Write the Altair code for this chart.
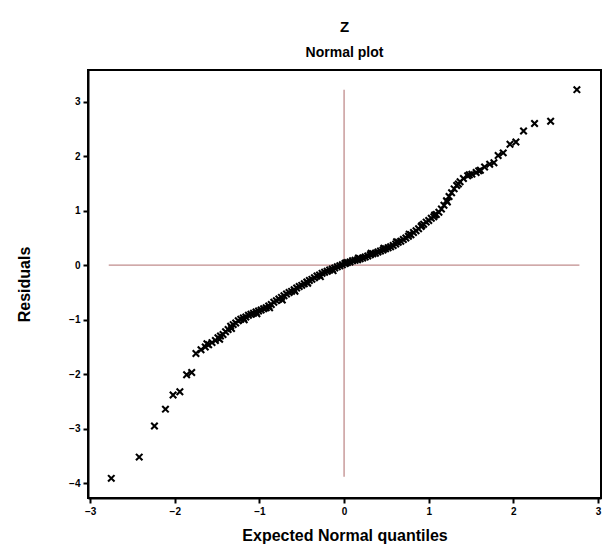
import altair as alt
import pandas as pd

# Expected normal quantiles (x) and residuals (y)
quantiles = [
    -2.75, -2.42, -2.24, -2.11, -2.02, -1.94, -1.86, -1.80, -1.75, -1.69,
    -1.64, -1.60, -1.56, -1.52, -1.49, -1.46, -1.43, -1.40, -1.37, -1.34,
    -1.31, -1.28, -1.25, -1.22, -1.19, -1.16, -1.13, -1.10, -1.07, -1.04,
    -1.01, -0.98, -0.95, -0.92, -0.89, -0.86, -0.83, -0.80, -0.77, -0.74,
    -0.71, -0.68, -0.65, -0.62, -0.59, -0.56, -0.53, -0.50, -0.47, -0.44,
    -0.41, -0.38, -0.35, -0.32, -0.29, -0.26, -0.23, -0.20, -0.17, -0.14,
    -0.11, -0.08, -0.05, -0.02, 0.01, 0.04, 0.07, 0.10, 0.13, 0.16,
    0.19, 0.22, 0.25, 0.28, 0.31, 0.34, 0.37, 0.40, 0.43, 0.46,
    0.49, 0.52, 0.55, 0.58, 0.61, 0.64, 0.67, 0.70, 0.73, 0.76,
    0.79, 0.82, 0.85, 0.88, 0.91, 0.94, 0.97, 1.00, 1.03, 1.06,
    1.09, 1.12, 1.15, 1.18, 1.21, 1.24, 1.27, 1.30, 1.33, 1.37,
    1.41, 1.46, 1.51, 1.56, 1.61, 1.66, 1.72, 1.77, 1.82, 1.88,
    1.96, 2.03, 2.12, 2.25, 2.44, 2.75,
    # extra overlapping points that thicken the dense band
    -1.62, -1.47, -1.33, -1.18, -1.03, -0.88, -0.73, -0.58, -0.43, -0.28,
    -0.13, 0.02, 0.17, 0.32, 0.47, 0.62, 0.77, 0.92, 1.07, 1.22,
    1.35, 1.48, 1.59,
]
residuals = [
    -3.91, -3.52, -2.95, -2.64, -2.38, -2.32, -2.01, -1.97, -1.62, -1.55,
    -1.50, -1.46, -1.42, -1.38, -1.33, -1.30, -1.27, -1.22, -1.18, -1.12,
    -1.09, -1.06, -1.02, -0.99, -0.97, -0.95, -0.92, -0.90, -0.88, -0.86,
    -0.84, -0.82, -0.80, -0.78, -0.75, -0.72, -0.68, -0.65, -0.62, -0.59,
    -0.56, -0.53, -0.50, -0.48, -0.45, -0.42, -0.39, -0.37, -0.34, -0.31,
    -0.28, -0.26, -0.23, -0.20, -0.18, -0.15, -0.13, -0.11, -0.09, -0.07,
    -0.05, -0.03, -0.01, 0.01, 0.03, 0.05, 0.06, 0.08, 0.09, 0.10,
    0.12, 0.13, 0.15, 0.17, 0.19, 0.21, 0.22, 0.24, 0.26, 0.28,
    0.30, 0.32, 0.34, 0.36, 0.39, 0.42, 0.44, 0.47, 0.50, 0.53,
    0.56, 0.60, 0.63, 0.67, 0.71, 0.75, 0.79, 0.82, 0.86, 0.89,
    0.93, 0.97, 1.03, 1.10, 1.18, 1.26, 1.33, 1.40, 1.46, 1.53,
    1.59, 1.64, 1.67, 1.70, 1.74, 1.80, 1.85, 1.88, 2.01, 2.06,
    2.22, 2.26, 2.46, 2.60, 2.64, 3.22,
    -1.44, -1.36, -1.16, -1.00, -0.89, -0.78, -0.64, -0.48, -0.33, -0.21,
    -0.10, 0.04, 0.13, 0.22, 0.31, 0.43, 0.57, 0.73, 0.92, 1.16,
    1.49, 1.66, 1.73,
]

# Reference lines: horizontal at 0 across the x range, vertical at 0 across the y range
hline_x = [-2.78, 2.78]
hline_y = [0.0]
vline_x = [0.0]
vline_y = [3.22, -3.88]

x_ticks = [-3, -2, -1, 0, 1, 2, 3]
y_ticks = [-4, -3, -2, -1, 0, 1, 2, 3]

pts = pd.DataFrame({"q": quantiles, "r": residuals})
hdf = pd.DataFrame({"x": [hline_x[0]], "x2": [hline_x[1]], "y": hline_y})
vdf = pd.DataFrame({"x": vline_x, "y": [vline_y[0]], "y2": [vline_y[1]]})

FONT = "Liberation Sans"
xscale = alt.Scale(domain=[-3.025, 3.035], nice=False, zero=False)
yscale = alt.Scale(domain=[-4.27, 3.58], nice=False, zero=False)

xaxis = alt.Axis(
    values=x_ticks, format="d", title="Expected Normal quantiles", grid=False,
    labelFont=FONT, labelFontSize=10, labelFontWeight="bold", labelColor="black",
    titleFont=FONT, titleFontSize=16, titleFontWeight="bold", titleColor="black",
    tickColor="black", tickSize=5, tickWidth=2, domainColor="black", domainWidth=2,
    labelPadding=3, titlePadding=11, labelFlush=False,
)
yaxis = alt.Axis(
    values=y_ticks, format="d", title="Residuals", grid=False,
    labelFont=FONT, labelFontSize=10, labelFontWeight="bold", labelColor="black",
    titleFont=FONT, titleFontSize=16, titleFontWeight="bold", titleColor="black",
    tickColor="black", tickSize=5, tickWidth=2, domainColor="black", domainWidth=2,
    labelPadding=3, titlePadding=36, labelFlush=False,
)

line_color = "#c08c8c"

hrule = alt.Chart(hdf).mark_rule(color=line_color, strokeWidth=1.3).encode(
    x=alt.X("x:Q", scale=xscale, axis=xaxis), x2="x2:Q",
    y=alt.Y("y:Q", scale=yscale, axis=yaxis),
)
vrule = alt.Chart(vdf).mark_rule(color=line_color, strokeWidth=1.3).encode(
    x=alt.X("x:Q", scale=xscale), y=alt.Y("y:Q", scale=yscale), y2="y2:Q",
)
points = alt.Chart(pts).mark_point(
    shape="M-1,-1L1,1M-1,1L1,-1", filled=False, stroke="black",
    strokeWidth=2.1, size=42, opacity=1,
).encode(
    x=alt.X("q:Q", scale=xscale), y=alt.Y("r:Q", scale=yscale),
)

chart = alt.layer(hrule, vrule, points).properties(
    width=513, height=428,
    autosize=alt.AutoSizeParams(type="none"),
    padding={"left": 80, "top": 62, "right": 3, "bottom": 50},
    background="white",
    title=alt.TitleParams(
        text="Z", subtitle="Normal plot", anchor="middle", frame="group",
        font=FONT, fontSize=15, fontWeight="bold", color="black",
        subtitleFont=FONT, subtitleFontSize=14, subtitleFontWeight="bold",
        subtitleColor="black", subtitlePadding=11, offset=10,
    ),
).configure_view(stroke="black", strokeWidth=2)

chart.save("out.html", embed_options={"renderer": "svg", "actions": False})
